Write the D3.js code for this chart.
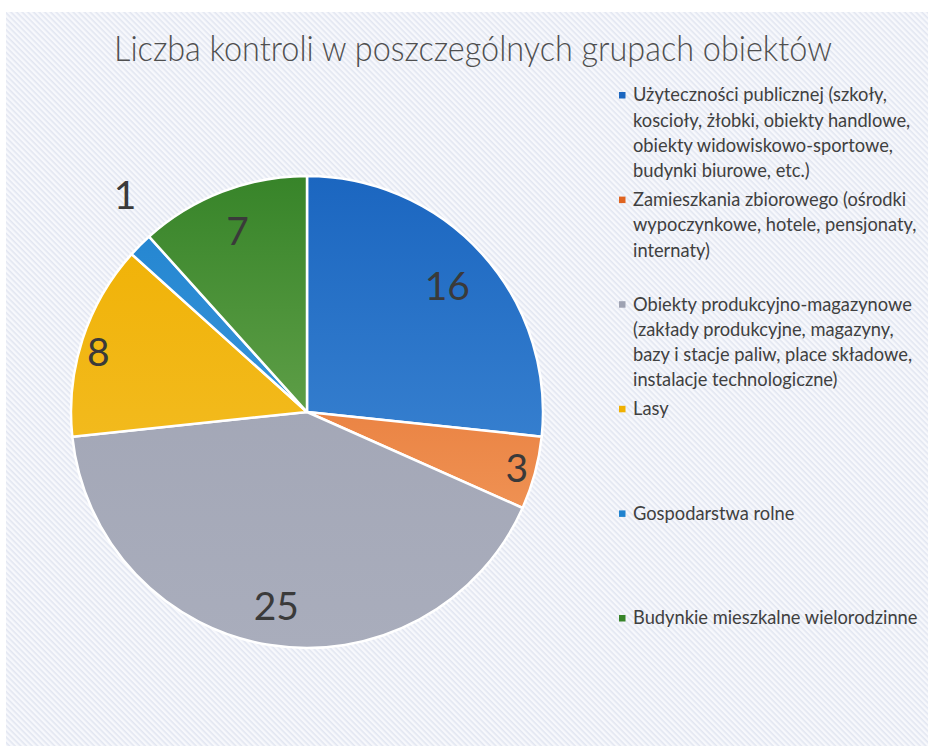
<!DOCTYPE html>
<html>
<head>
<meta charset="utf-8">
<script src="https://cdn.jsdelivr.net/npm/d3@7"></script>
<style>
  body { margin: 0; background: #fff; }
  svg { display: block; font-family: Lato, "Open Sans", sans-serif; }
</style>
</head>
<body>
<svg id="chart" width="928" height="746"></svg>
<script>
// dane
const title = "Liczba kontroli w poszczególnych grupach obiektów";
const categories = [
    ["Użyteczności publicznej (szkoły,", "koscioły, żłobki, obiekty handlowe,", "obiekty widowiskowo-sportowe,", "budynki biurowe, etc.)"],
    ["Zamieszkania zbiorowego (ośrodki", "wypoczynkowe, hotele, pensjonaty,", "internaty)"],
    ["Obiekty produkcyjno-magazynowe", "(zakłady produkcyjne, magazyny,", "bazy i stacje paliw, place składowe,", "instalacje technologiczne)"],
    ["Lasy"],
    ["Gospodarstwa rolne"],
    ["Budynkie mieszkalne wielorodzinne"]
];
const values = [16, 3, 25, 8, 1, 7];
const colorsDark = ["#1b66c0", "#e06420", "#9ea2b2", "#f0b000", "#1f82cf", "#378429"];
const colorsLight = ["#4a92da", "#f5a468", "#a9adbc", "#f4c234", "#4fa6e2", "#84b864"];
// odleglosc etykiet od srodka (wzgledem promienia) i przesuniecie katowe
const labelPos = [0.8, 0.92, 0.83, 0.92, 1.2, 0.82];
const labelTurn = [0, 0, 0, -2, 5, 0];

const svg = d3.select("#chart");
const width = 928, height = 746;
const cx = 307, cy = 412, r = 236;

const defs = svg.append("defs");

// tlo - skan, ukosne kreski
const pat = defs.append("pattern")
    .attr("id", "hatch")
    .attr("width", 4).attr("height", 4)
    .attr("patternUnits", "userSpaceOnUse")
    .attr("patternTransform", "rotate(45)");
pat.append("rect").attr("width", 4).attr("height", 4).attr("fill", "#f7f8fc");
pat.append("rect").attr("width", 4).attr("height", 1.6).attr("fill", "#e2e6f1");

svg.append("rect").attr("width", width).attr("height", height).attr("fill", "#fff");
svg.append("rect")
    .attr("x", 6).attr("y", 12)
    .attr("width", width - 6).attr("height", height - 12)
    .attr("fill", "url(#hatch)");

// gradienty dla wycinkow
values.forEach((v, i) => {
    const g = defs.append("linearGradient")
        .attr("id", `grad-${i}`)
        .attr("gradientUnits", "userSpaceOnUse")
        .attr("x1", 0).attr("y1", -r).attr("x2", 0).attr("y2", r);
    g.append("stop").attr("offset", "0%").attr("stop-color", colorsDark[i]);
    g.append("stop").attr("offset", "100%").attr("stop-color", colorsLight[i]);
});

svg.append("text")
    .attr("x", 473).attr("y", 61)
    .attr("text-anchor", "middle")
    .attr("font-size", 36)
    .attr("font-weight", 300)
    .attr("fill", "#4f4f4f")
    .attr("textLength", 718)
    .attr("lengthAdjust", "spacingAndGlyphs")
    .text(title);

const pie = d3.pie().sort(null).value(d => d);
const arcs = pie(values);
const arc = d3.arc().innerRadius(0).outerRadius(r);

const pieG = svg.append("g")
    .attr("transform", `translate(${cx}, ${cy})`);

pieG.selectAll("path.slice")
    .data(arcs)
    .enter()
    .append("path")
    .attr("class", "slice")
    .attr("d", arc)
    .attr("fill", (d, i) => `url(#grad-${i})`)
    .attr("stroke", "#fff")
    .attr("stroke-width", 2.5)
    .attr("stroke-linejoin", "round");

pieG.selectAll("text.lbl")
    .data(arcs)
    .enter()
    .append("text")
    .attr("class", "lbl")
    .attr("transform", (d, i) => {
        const lr = r * labelPos[i];
        const a = (d.startAngle + d.endAngle) / 2 + labelTurn[i] * Math.PI / 180;
        const c = d3.arc().innerRadius(lr).outerRadius(lr)
            .startAngle(a).endAngle(a).centroid();
        return `translate(${c[0]}, ${c[1]})`;
    })
    .attr("text-anchor", "middle")
    .attr("dy", "0.36em")
    .attr("font-size", 39)
    .attr("fill", "#3a3a3a")
    .text(d => d.data);

// legenda
const legend = svg.append("g").attr("transform", "translate(619, 95)");
const step = 104.6;

const items = legend.selectAll("g.item")
    .data(categories)
    .enter()
    .append("g")
    .attr("class", "item")
    .attr("transform", (d, i) => `translate(0, ${i * step})`);

items.append("rect")
    .attr("x", 0).attr("y", -3)
    .attr("width", 6.5).attr("height", 6.5)
    .attr("fill", (d, i) => colorsDark[i]);

items.each(function(lines) {
    d3.select(this).selectAll("text")
        .data(lines)
        .enter()
        .append("text")
        .attr("x", 14)
        .attr("y", (t, j) => j * 25.3)
        .attr("dy", "0.35em")
        .attr("font-size", 18.3)
        .attr("fill", "#404040")
        .text(t => t);
});
</script>
</body>
</html>
